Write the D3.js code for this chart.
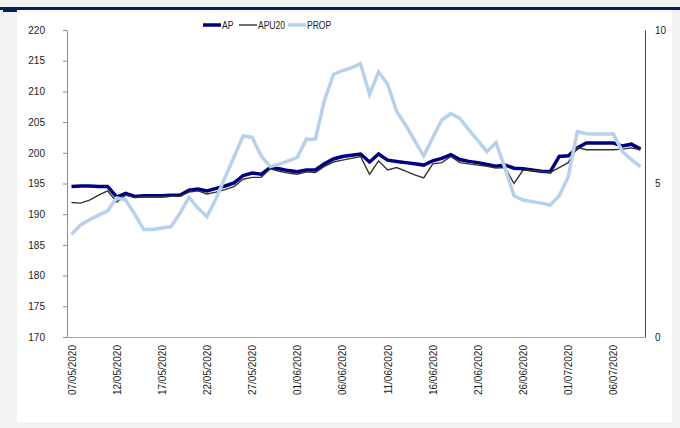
<!DOCTYPE html>
<html>
<head>
<meta charset="utf-8">
<script src="https://cdn.jsdelivr.net/npm/d3@7"></script>
<style>
  body { margin: 0; background: #f2f2f2; }
  text { font-family: "Liberation Sans", Arial, sans-serif; fill: #222; }
</style>
</head>
<body>
<div id="chart"></div>
<script>
// series, one value per day from 07/05/2020
var apValues = [
  194.5, 194.6, 194.6, 194.5, 194.5, 192.8, 193.4, 192.9, 193.0, 193.0,
  193.0, 193.1, 193.1, 193.9, 194.1, 193.8, 194.2, 194.6, 195.1, 196.3,
  196.7, 196.5, 197.6, 197.4, 197.1, 196.9, 197.2, 197.2, 198.2, 199.0,
  199.4, 199.6, 199.8, 198.5, 199.8, 198.8, 198.6, 198.4, 198.2, 198.0,
  198.7, 199.1, 199.7, 198.9, 198.6, 198.4, 198.1, 197.8, 198.0, 197.5,
  197.4, 197.2, 197.0, 196.9, 199.4, 199.5, 200.8, 201.6, 201.6, 201.6,
  201.6, 201.1, 201.4, 200.6
];
var apu20Values = [
  191.9, 191.8, 192.3, 193.1, 193.8, 192.0, 193.1, 192.7, 192.8, 192.8,
  192.8, 192.9, 192.9, 193.6, 193.8, 193.3, 193.6, 194.0, 194.5, 195.7,
  196.0, 196.0, 197.4, 197.0, 196.7, 196.5, 196.9, 196.8, 197.8, 198.5,
  198.8, 199.1, 199.4, 196.5, 198.7, 197.2, 197.6, 197.0, 196.4, 195.9,
  198.2, 198.4, 199.4, 198.4, 198.2, 198.0, 197.8, 197.5, 197.6, 195.0,
  197.2, 197.1, 197.0, 196.8, 197.6, 198.4, 200.9, 200.5, 200.5, 200.5,
  200.5, 200.6, 200.8, 200.5
];
var propValues = [
  3.35, 3.65, 3.82, 3.97, 4.11, 4.53, 4.46, 4.00, 3.50, 3.50,
  3.55, 3.59, 4.03, 4.55, 4.20, 3.92, 4.50, 5.20, 5.87, 6.55,
  6.50, 5.90, 5.55, 5.63, 5.74, 5.85, 6.44, 6.44, 7.70, 8.55,
  8.68, 8.77, 8.90, 7.90, 8.64, 8.23, 7.35, 6.90, 6.40, 5.90,
  6.50, 7.07, 7.28, 7.12, 6.75, 6.40, 6.04, 6.33, 5.50, 4.60,
  4.46, 4.41, 4.36, 4.30, 4.60, 5.22, 6.69, 6.62, 6.61, 6.61,
  6.61, 6.04, 5.78, 5.55
];
var leftTicks = [170, 175, 180, 185, 190, 195, 200, 205, 210, 215, 220];
var rightTicks = [0, 5, 10];
var seriesNames = ["AP", "APU20", "PROP"];

var w = 680,
    h = 428,
    mleft = 67,
    mright = 645,
    mtop = 30,
    mbottom = 337;

var start = new Date(2020, 4, 7);
var dates = d3.timeDay.range(start, d3.timeDay.offset(start, apValues.length));
var dateTicks = dates.filter(function(d, i){ return i % 5 == 0; });
var fmt = d3.timeFormat("%d/%m/%Y");

var svg = d3.select("#chart")
	.append("svg")
	.attr("width", w)
	.attr("height", h);

// frame
svg.append("rect").attr("width", w).attr("height", h).attr("fill", "#f2f2f2");
svg.append("rect").attr("x", 17).attr("y", 10).attr("width", 655).attr("height", 412).attr("fill", "#fff");
svg.append("rect").attr("x", 0).attr("y", 7).attr("width", w).attr("height", 3).attr("fill", "#002060");
svg.append("rect").attr("x", 3).attr("y", 10).attr("width", 14).attr("height", 2).attr("fill", "#002060");

var x = d3.scaleTime()
	.domain([d3.timeHour.offset(dates[0], -12), d3.timeHour.offset(dates[dates.length - 1], 12)])
	.range([mleft, mright]);

var y = d3.scaleLinear()
	.domain([170, 220])
	.range([mbottom, mtop]);

var y2 = d3.scaleLinear()
	.domain([0, 10])
	.range([mbottom, mtop]);

// left axis
var yAxis = d3.axisLeft(y)
	.tickValues(leftTicks)
	.tickSizeInner(4)
	.tickSizeOuter(0)
	.tickPadding(18);

var gy = svg.append("g")
	.attr("transform", "translate(" + mleft + ",0)")
	.call(yAxis);
gy.selectAll("line, path").attr("stroke", "#8c8c8c");
gy.selectAll("text").style("font-size", "10px").style("font-family", "Liberation Sans, Arial");

// right axis
var y2Axis = d3.axisRight(y2)
	.tickValues(rightTicks)
	.tickSize(0)
	.tickPadding(10);

var gy2 = svg.append("g")
	.attr("transform", "translate(" + mright + ",0)")
	.call(y2Axis);
gy2.select("path").attr("stroke", "#444");
gy2.selectAll("text").style("font-size", "10px").style("font-family", "Liberation Sans, Arial");

// bottom axis
var xAxis = d3.axisBottom(x)
	.tickValues(dateTicks)
	.tickFormat(fmt)
	.tickSize(0);

var gx = svg.append("g")
	.attr("transform", "translate(0," + mbottom + ")")
	.call(xAxis);
gx.select("path").attr("stroke", "#a6a6a6");
gx.selectAll("text")
	.attr("transform", "rotate(-90)")
	.attr("x", -8)
	.attr("y", 0)
	.attr("dy", "0.35em")
	.style("text-anchor", "end")
	.style("font-size", "10px")
	.style("font-family", "Liberation Sans, Arial");

// lines
var lineLeft = d3.line()
	.x(function(d, i){ return x(dates[i]); })
	.y(function(d){ return y(d); });

var lineRight = d3.line()
	.x(function(d, i){ return x(dates[i]); })
	.y(function(d){ return y2(d); });

svg.append("path")
	.datum(apValues)
	.attr("d", lineLeft)
	.attr("fill", "none")
	.attr("stroke", "#000080")
	.attr("stroke-width", 3.5);

svg.append("path")
	.datum(apu20Values)
	.attr("d", lineLeft)
	.attr("fill", "none")
	.attr("stroke", "#333")
	.attr("stroke-width", 1.4);

svg.append("path")
	.datum(propValues)
	.attr("d", lineRight)
	.attr("fill", "none")
	.attr("stroke", "#b8d1ea")
	.attr("stroke-width", 3.5);

// legend
var legendColors = ["#000080", "#333", "#b8d1ea"];
var legendWidths = [3.5, 1.4, 3.5];
var legendX = [203, 239, 288];

var leg = svg.selectAll(".legend")
	.data(seriesNames)
	.enter()
	.append("g")
	.attr("class", "legend")
	.attr("transform", function(d, i){ return "translate(" + legendX[i] + ",25)"; });

leg.append("line")
	.attr("x1", 0)
	.attr("x2", 18)
	.attr("stroke", function(d, i){ return legendColors[i]; })
	.attr("stroke-width", function(d, i){ return legendWidths[i]; });

leg.append("text")
	.attr("x", 19)
	.attr("dy", "0.35em")
	.attr("transform", "scale(0.86,1)")
	.attr("x", 22)
	.style("font-size", "10px")
	.text(function(d){ return d; });
</script>
</body>
</html>
